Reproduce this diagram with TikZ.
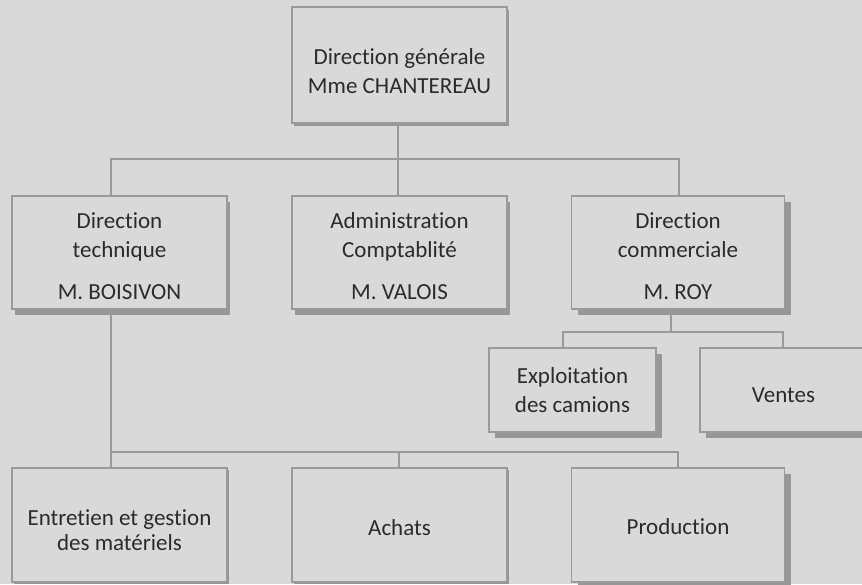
\documentclass[tikz,border=0pt]{standalone}
\usepackage{fontspec}
\setmainfont{Carlito}[Ligatures={NoCommon}]
\usetikzlibrary{shadows}
\definecolor{bg}{HTML}{D9D9D9}
\definecolor{edge}{HTML}{9A9A9A}
\definecolor{shd}{HTML}{979797}
\definecolor{txt}{HTML}{2B2B2B}
\tikzset{
  orgbox/.style={draw=edge, fill=bg, line width=1.2pt, inner sep=0pt},
  orgtext/.style={inner sep=0pt, align=center, text=txt, font=\fontsize{23}{29}\selectfont},
  thinshadow/.style={drop shadow={shadow xshift=3pt, shadow yshift=-6pt, fill=shd, opacity=1}},
  topshadow/.style={drop shadow={shadow xshift=2pt, shadow yshift=-3pt, fill=shd, opacity=1}},
  wideshadow/.style={drop shadow={shadow xshift=6pt, shadow yshift=-6pt, fill=shd, opacity=1}},
  lowshadow/.style={drop shadow={shadow xshift=2pt, shadow yshift=-2pt, fill=shd, opacity=1}},
  link/.style={draw=edge, line width=1.2pt},
}
\begin{document}
\begin{tikzpicture}[x=1pt,y=-1pt]
\fill[bg] (0,0) rectangle (862,584);
\useasboundingbox (0,0) rectangle (862,584);
\clip (0,0) rectangle (862,584);

% boxes
\node[orgbox, topshadow, minimum width=215pt, minimum height=116pt] (dg) at (399.5,65) {};
\node[orgbox, thinshadow, minimum width=215pt, minimum height=113pt] (dt) at (119.5,252.5) {};
\node[orgbox, thinshadow, minimum width=215pt, minimum height=113pt] (ac) at (399.5,252.5) {};
\node[orgbox, wideshadow, minimum width=213pt, minimum height=113pt] (dc) at (678,252.5) {};
\node[orgbox, wideshadow, minimum width=167pt, minimum height=84pt] (ex) at (572.5,390) {};
\node[orgbox, wideshadow, minimum width=167pt, minimum height=84pt] (ve) at (783.5,390) {};
\node[orgbox, lowshadow, minimum width=215pt, minimum height=114pt] (en) at (119.5,525) {};
\node[orgbox, lowshadow, minimum width=215pt, minimum height=114pt] (ach) at (399.5,525) {};
\node[orgbox, wideshadow, minimum width=213pt, minimum height=114pt] (pr) at (678,525) {};

% texts
\node[orgtext] (dg-t) at ([yshift=-6pt]dg.center) {Direction générale\\Mme CHANTEREAU};
\node[orgtext] (dt-t) at ([yshift=-4pt]dt.center) {Direction\\technique\\[13pt]M. BOISIVON};
\node[orgtext] (ac-t) at ([yshift=-4pt]ac.center) {Administration\\Comptablité\\[13pt]M. VALOIS};
\node[orgtext] (dc-t) at ([yshift=-4pt]dc.center) {Direction\\commerciale\\[13pt]M. ROY};
\node[orgtext] (ex-t) at ([yshift=0pt]ex.center) {Exploitation\\des camions};
\node[orgtext] (ve-t) at ([yshift=-5pt]ve.center) {Ventes};
\node[orgtext, font=\fontsize{23}{25}\selectfont] (en-t) at ([yshift=-5pt]en.center) {Entretien et gestion\\des matériels};
\node[orgtext] (ach-t) at ([yshift=-3pt]ach.center) {Achats};
\node[orgtext] (pr-t) at ([yshift=-2pt]pr.center) {Production};

% junctions
\coordinate (j0) at (398,159);
\coordinate (j1) at (111,159);
\coordinate (j2) at (679,159);
\coordinate (k1) at (111,452);
\coordinate (k2) at (399,452);
\coordinate (k3) at (678,452);
\coordinate (m0) at (671,332);
\coordinate (m1) at (563,332);
\coordinate (m2) at (783,332);

% connectors
\draw[link] (j0 |- dg.south) -- (j0);
\draw[link] (j1 |- dt.north) -- (j1) -- (j2) -- (j2 |- dc.north);
\draw[link] (j0) -- (j0 |- ac.north);

\draw[link] (k1 |- dt.south) -- (k1) -- (k3) -- (k3 |- pr.north);
\draw[link] (k1) -- (k1 |- en.north);
\draw[link] (k2) -- (k2 |- ach.north);

\draw[link] (m0 |- dc.south) -- (m0);
\draw[link] (m1 |- ex.north) -- (m1) -- (m2) -- (m2 |- ve.north);
\end{tikzpicture}
\end{document}
